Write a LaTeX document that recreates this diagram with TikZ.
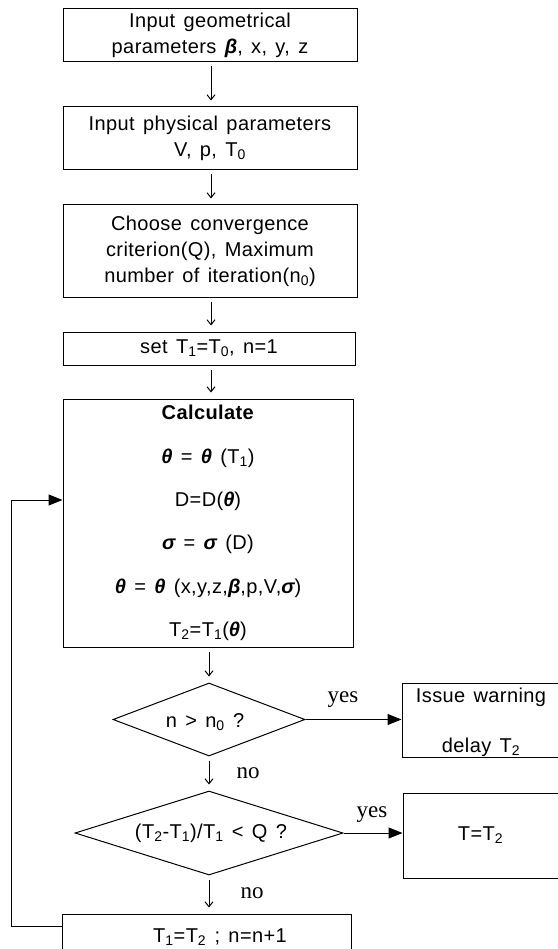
\documentclass[tikz,border=0pt]{standalone}
\usepackage{fontspec}
\setmainfont{Liberation Sans}[LetterSpace=2,WordSpace=1.4]
\newfontfamily\serifyes{Liberation Serif}
\usetikzlibrary{shapes.geometric,arrows.meta}
\newcommand{\bgr}[1]{{\bfseries\itshape #1}}
\begin{document}
\begin{tikzpicture}[x=1pt,y=-1pt]
\tikzset{
  box/.style={draw, line width=1pt, inner sep=0pt, align=center, font=\fontsize{20}{26}\selectfont},
  dia/.style={draw, diamond, line width=1pt, inner sep=0pt},
  darr/.style={-{Straight Barb[length=5pt,width=8pt]}, line width=1pt, shorten <=4pt, shorten >=6pt},
  farr/.style={-{Triangle[length=14pt,width=11pt]}, line width=1pt},
  lbl/.style={font=\serifyes\fontsize{23}{24}\selectfont, inner sep=0pt},
  txt/.style={inner sep=0pt, font=\fontsize{20}{22}\selectfont}
}
\useasboundingbox (0,0) rectangle (557,949);
\coordinate (ax) at (211,0);
\node[box, minimum width=294, minimum height=53] (b1) at (210,35.5) {Input geometrical\\parameters \bgr{β}, x, y, z};
\node[box, minimum width=294, minimum height=63] (b2) at (210,138.5) {Input physical parameters\\V, p, T\textsubscript{0}};
\node[box, minimum width=294, minimum height=92] (b3) at (210,251) {Choose convergence\\criterion(Q), Maximum\\number of iteration(n\textsubscript{0})};
\node[box, minimum width=292, minimum height=33] (b4) at (209,348.5) {set T\textsubscript{1}=T\textsubscript{0}, n=1};
\node[box, minimum width=290, minimum height=248, font=\fontsize{20}{43.4}\selectfont] (calc) at (208,523) {\textbf{Calculate}\\
\bgr{θ} = \bgr{θ} (T\textsubscript{1})\\
D=D(\bgr{θ})\\
\bgr{σ} = \bgr{σ} (D)\\
\bgr{θ} = \bgr{θ} (x,y,z,\bgr{β},p,V,\bgr{σ})\\
T\textsubscript{2}=T\textsubscript{1}(\bgr{θ})};
\node[dia, minimum width=192, minimum height=73] (d1) at (209,719.5) {};
\node[txt] (d1t) at (205,722) {n > n\textsubscript{0} ?};
\node[dia, minimum width=268, minimum height=84] (d2) at (209,833) {};
\node[txt] (d2t) at (211,833) {(T\textsubscript{2}-T\textsubscript{1})/T\textsubscript{1} < Q ?};
\node[draw, line width=1pt, minimum width=156, minimum height=74, inner sep=0pt] (warn) at (480,720) {};
\node[txt, align=center, font=\fontsize{20}{50}\selectfont] (warnt) at (481,722) {Issue warning\\delay T\textsubscript{2}};
\node[box, minimum width=155, minimum height=85] (res) at (480.5,835.5) {T=T\textsubscript{2}};
\node[draw, line width=1pt, minimum width=289, minimum height=44, inner sep=0pt] (upd) at (206.5,936) {};
\node[txt] (updt) at (220,937) {T\textsubscript{1}=T\textsubscript{2} ; n=n+1};
\draw[darr] (b1.south -| ax) -- (b2.north -| ax);
\draw[darr] (b2.south -| ax) -- (b3.north -| ax);
\draw[darr] (b3.south -| ax) -- (b4.north -| ax);
\draw[darr] (b4.south -| ax) -- (calc.north -| ax);
\draw[darr] (calc.south -| d1.north) -- (d1.north);
\draw[darr] (d1.south) -- (d2.north);
\draw[darr] (d2.south) -- (upd.north -| d2.south);
\draw[farr] (d1.east) -- (warn.west |- d1.east);
\draw[farr] (d2.east) -- (res.west |- d2.east);
\node[lbl] (y1) at (343,700) {yes};
\node[lbl] (y2) at (372,815) {yes};
\node[lbl] (n1) at (248,773) {no};
\node[lbl] (n2) at (252,893) {no};
\coordinate (lp) at (11,926);
\coordinate (la) at (11,500);
\draw[farr] (upd.west |- lp) -- (lp) -- (la) -- (calc.west |- la);
\end{tikzpicture}
\end{document}
